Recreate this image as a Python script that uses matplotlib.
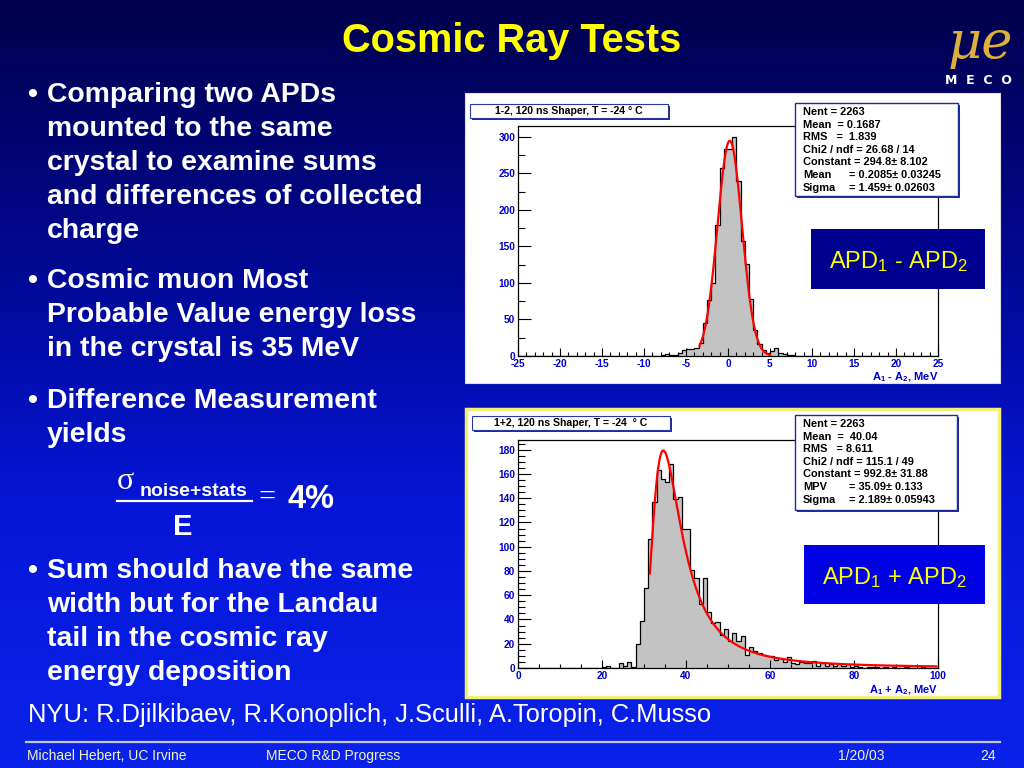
import numpy as np
import matplotlib
matplotlib.use("Agg")
import matplotlib.pyplot as plt
from matplotlib.patches import Rectangle
from matplotlib.lines import Line2D
from matplotlib.colors import LinearSegmentedColormap

plt.rcParams['mathtext.default'] = 'regular'
plt.rcParams['axes.unicode_minus'] = False

# ---------------- data ----------------
# A1 - A2 histogram, 0.5 MeV bins on [-25, 25]; listed counts start at -8.0 MeV
diff_range = (-25.0, 25.0)
diff_bin_width = 0.5
diff_first_left = -8.0
diff_counts = [2, 3, 2, 1, 4, 8, 10, 9,
               11, 18, 45, 77, 100, 179, 257, 283, 283, 300, 239, 157, 126, 78, 36, 16, 8,
               4, 7, 11, 4, 3, 2, 1]
diff_fit_constant, diff_fit_mean, diff_fit_sigma = 294.8, 0.2085, 1.459
diff_fit_range = (-3.4, 5.0)

# A1 + A2 histogram, 1 MeV bins on [0, 100]; listed counts start at 20 MeV
sum_range = (0.0, 100.0)
sum_bin_width = 1.0
sum_first_left = 20.0
sum_counts = [1, 2, 0, 0, 4, 2, 5, 1, 20, 39,
              66, 106, 137, 163, 156, 153, 168, 139, 141, 115,
              115, 81, 74, 53, 74, 46, 37, 38, 27, 32,
              22, 29, 22, 26, 11, 17, 14, 12, 11, 10,
              10, 7, 8, 5, 9, 4, 3, 5, 4, 4,
              6, 2, 4, 2, 3, 2, 3, 2, 3, 1,
              2, 1, 0, 1, 1, 1, 0, 1, 0, 1,
              0, 0, 1, 0, 0, 0, 1, 0, 0, 0]
sum_fit_constant, sum_fit_mpv, sum_fit_sigma = 992.8, 35.09, 2.189
sum_fit_range = (31.4, 99.6)

diff_xticks = [-25, -20, -15, -10, -5, 0, 5, 10, 15, 20, 25]
diff_yticks = [0, 50, 100, 150, 200, 250, 300]
sum_xticks = [0, 20, 40, 60, 80, 100]
sum_yticks = [0, 20, 40, 60, 80, 100, 120, 140, 160, 180]

diff_title = "1-2, 120 ns Shaper, T = -24 \u00b0 C"
sum_title = "1+2, 120 ns Shaper, T = -24  \u00b0 C"
diff_stats = [("Nent = 2263", None), ("Mean  = 0.1687", None), ("RMS   =  1.839", None),
              ("Chi2 / ndf = 26.68 / 14", None), ("Constant = 294.8\u00b1 8.102", None),
              ("Mean", "= 0.2085\u00b1 0.03245"), ("Sigma", "= 1.459\u00b1 0.02603")]
sum_stats = [("Nent = 2263", None), ("Mean  =  40.04", None), ("RMS   = 8.611", None),
             ("Chi2 / ndf = 115.1 / 49", None), ("Constant = 992.8\u00b1 31.88", None),
             ("MPV", "= 35.09\u00b1 0.133"), ("Sigma", "= 2.189\u00b1 0.05943")]

title = "Cosmic Ray Tests"
bullets = [
    ["Comparing two APDs", "mounted to the same", "crystal to examine sums",
     "and differences of collected", "charge"],
    ["Cosmic muon Most", "Probable Value energy loss", "in the crystal is 35 MeV"],
    ["Difference Measurement", "yields"],
    ["Sum should have the same", "width but for the Landau", "tail in the cosmic ray",
     "energy deposition"],
]
bullet_baselines = [[102, 136, 170, 204, 238], [288, 322, 356], [408, 442],
                    [578, 612, 646, 680]]
credits = "NYU: R.Djilkibaev, R.Konoplich, J.Sculli, A.Toropin, C.Musso"
footer = ["Michael Hebert, UC Irvine", "MECO R&D Progress", "1/20/03", "24"]

# ---------------- helpers ----------------
W, H = 1024, 768
fig = plt.figure(figsize=(W / 100, H / 100), dpi=100)


def fx(x):
    return x / W


def fy(y):
    return 1 - y / H


def T(x, y, s, **kw):
    kw.setdefault('va', 'baseline')
    return fig.text(fx(x), fy(y), s, **kw)


def rect(x0, y0, x1, y1, **kw):
    r = Rectangle((fx(x0), fy(y1)), (x1 - x0) / W, (y1 - y0) / H,
                  transform=fig.transFigure, **kw)
    fig.add_artist(r)
    return r


def landau_density(lam):
    t = np.linspace(1e-9, 40.0, 40001)
    out = np.empty_like(lam)
    for i, l in enumerate(lam):
        f = np.exp(-t * np.log(t) - l * t) * np.sin(np.pi * t)
        out[i] = np.trapezoid(f, t) / np.pi
    return out


SANS = 'Liberation Sans'

# ---------------- background ----------------
bg = fig.add_axes([0, 0, 1, 1], zorder=-10)
cmap = LinearSegmentedColormap.from_list('bg', ['#00004c', '#000890', '#0616d8', '#0a22ea'])
bg.imshow(np.linspace(0, 1, 256)[:, None], aspect='auto', cmap=cmap,
          extent=[0, 1, 0, 1], origin='upper')
bg.set_xlim(0, 1)
bg.set_ylim(0, 1)
bg.axis('off')

fig.add_artist(Line2D([fx(26), fx(1000)], [fy(742), fy(742)], transform=fig.transFigure,
                      color='#c8c8d8', lw=1.6))

# ---------------- text on the left ----------------
T(512, 52, title, ha='center', fontsize=28.6, fontweight='bold', color='#ffff00', family=SANS)

for lines, bases in zip(bullets, bullet_baselines):
    T(27, bases[0], "\u2022", fontsize=20.4, fontweight='bold', color='white', family=SANS)
    for s, b in zip(lines, bases):
        T(47, b, s, fontsize=20.4, fontweight='bold', color='white', family=SANS)

# formula sigma_{noise+stats} / E = 4%
T(117, 489, "\u03c3", fontsize=23, color='white', family='Liberation Serif')
T(140, 496, "noise+stats", fontsize=14, fontweight='bold', color='white', family=SANS)
fig.add_artist(Line2D([fx(117), fx(252)], [fy(501), fy(501)], transform=fig.transFigure,
                      color='white', lw=1.6))
T(183, 535, "E", ha='center', fontsize=21, fontweight='bold', color='white', family=SANS)
T(259, 506, "=", fontsize=22, color='white', family='Liberation Serif')
T(287, 508, "4%", fontsize=23.5, fontweight='bold', color='white', family=SANS)

T(28, 722, credits, fontsize=18.4, color='white', family=SANS)

for s, x in zip(footer, [27, 266, 838, 980]):
    T(x, 760, s, fontsize=10, color='#f4f4c4', family=['Liberation Sans Narrow', SANS])

# logo
T(980, 58, "\u03bce", ha='center', fontsize=38, style='italic', color='#dcb03a',
  family='DejaVu Serif')
T(978, 84, "M  E  C  O", ha='center', fontsize=9, fontweight='bold', color='white',
  family='DejaVu Sans')

# ---------------- panels ----------------
rect(465, 93, 1000, 383, facecolor='white', edgecolor='#e0e0e0', lw=0.8, zorder=-5)
rect(466, 409, 999, 697, facecolor='white', edgecolor='#f2ee78', lw=2.5, zorder=-5)

TICKC = '#0000cc'


def setup_axes(ax, xlim, ylim, xticks, yticks, xminor, yminor):
    ax.set_facecolor('white')
    ax.set_xlim(*xlim)
    ax.set_ylim(*ylim)
    ax.set_xticks(xticks)
    ax.set_yticks(yticks)
    ax.set_xticks(xminor, minor=True)
    ax.set_yticks(yminor, minor=True)
    ax.tick_params(axis='both', which='both', direction='in', top=False, right=False,
                   labelsize=7.3, labelcolor=TICKC, width=0.8, color='black')
    ax.tick_params(axis='x', which='major', length=5.5, pad=2)
    ax.tick_params(axis='x', which='minor', length=3)
    ax.tick_params(axis='y', which='major', length=9.5, pad=2)
    ax.tick_params(axis='y', which='minor', length=5)
    for lab in ax.get_xticklabels() + ax.get_yticklabels():
        lab.set_fontweight('bold')
        lab.set_family(SANS)
    for sp in ax.spines.values():
        sp.set_linewidth(0.9)


# top: difference
ax1 = fig.add_axes([fx(518), fy(356), 420 / W, 230 / H])
d_edges = np.arange(diff_range[0], diff_range[1] + diff_bin_width / 2, diff_bin_width)
d_full = np.zeros(len(d_edges) - 1)
i0 = int(round((diff_first_left - diff_range[0]) / diff_bin_width))
d_full[i0:i0 + len(diff_counts)] = diff_counts
ax1.stairs(d_full, d_edges, fill=True, facecolor='#c3c3c3', edgecolor='none')
ax1.stairs(d_full, d_edges, color='black', lw=0.9)
xf = np.linspace(diff_fit_range[0], diff_fit_range[1], 300)
ax1.plot(xf, diff_fit_constant * np.exp(-0.5 * ((xf - diff_fit_mean) / diff_fit_sigma) ** 2),
         color='#ff0000', lw=1.6)
setup_axes(ax1, diff_range, (0, 315), diff_xticks, diff_yticks,
           np.arange(-25, 26, 1), np.arange(0, 315, 25))

# bottom: sum
ax2 = fig.add_axes([fx(518), fy(668), 420 / W, 228 / H])
s_edges = np.arange(sum_range[0], sum_range[1] + sum_bin_width / 2, sum_bin_width)
s_full = np.zeros(len(s_edges) - 1)
j0 = int(round((sum_first_left - sum_range[0]) / sum_bin_width))
s_full[j0:j0 + len(sum_counts)] = sum_counts
ax2.stairs(s_full, s_edges, fill=True, facecolor='#c3c3c3', edgecolor='none')
ax2.stairs(s_full, s_edges, color='black', lw=0.9)
xs = np.linspace(sum_fit_range[0], sum_fit_range[1], 400)
ax2.plot(xs, sum_fit_constant * landau_density((xs - sum_fit_mpv) / sum_fit_sigma),
         color='#ff0000', lw=1.6)
setup_axes(ax2, sum_range, (0, 188), sum_xticks, sum_yticks,
           np.arange(0, 101, 5), np.arange(0, 188, 5))

# axis titles
T(938, 380, "A$_1$ - A$_2$, MeV", ha='right', fontsize=8, fontweight='bold', color=TICKC,
  family=SANS)
T(938, 693, "A$_1$ + A$_2$, MeV", ha='right', fontsize=8, fontweight='bold', color=TICKC,
  family=SANS)

# ROOT title boxes
for (x0, y0, x1, y1), s in [((470, 104, 668, 118), diff_title), ((472, 416, 670, 430), sum_title)]:
    rect(x0 + 2, y0 + 2, x1 + 2, y1 + 2, facecolor='#1c2c9c', edgecolor='none', zorder=4)
    rect(x0, y0, x1, y1, facecolor='white', edgecolor='#2838a8', lw=0.8, zorder=5)
    T((x0 + x1) / 2, y1 - 3.5, s, ha='center', fontsize=7.6, fontweight='bold', color='black',
      family=SANS, zorder=6)

# stats boxes
for (x0, y0, x1, y1), stats, base0 in [((795, 103, 958, 196), diff_stats, 115),
                                       ((795, 415, 957, 510), sum_stats, 427)]:
    rect(x0 + 2, y0 + 2, x1 + 2, y1 + 2, facecolor='#1c2c9c', edgecolor='none', zorder=4)
    rect(x0, y0, x1, y1, facecolor='white', edgecolor='#1c2c9c', lw=1.0, zorder=5)
    for k, (name, val) in enumerate(stats):
        b = base0 + k * 12.6
        T(803, b, name, fontsize=7.9, fontweight='bold', color='black', family=SANS, zorder=6)
        if val is not None:
            T(849, b, val, fontsize=7.9, fontweight='bold', color='black', family=SANS, zorder=6)

# APD label boxes
rect(811, 229, 985, 289, facecolor='#00008e', edgecolor='none', zorder=5)
T(898, 268, "APD$_1$ - APD$_2$", ha='center', fontsize=17, color='#ffff00', family=SANS, zorder=6)
rect(804, 545, 985, 604, facecolor='#0000e4', edgecolor='none', zorder=5)
T(894, 584, "APD$_1$ + APD$_2$", ha='center', fontsize=17, color='#ffff00', family=SANS, zorder=6)

fig.savefig("out.png", dpi=100)
